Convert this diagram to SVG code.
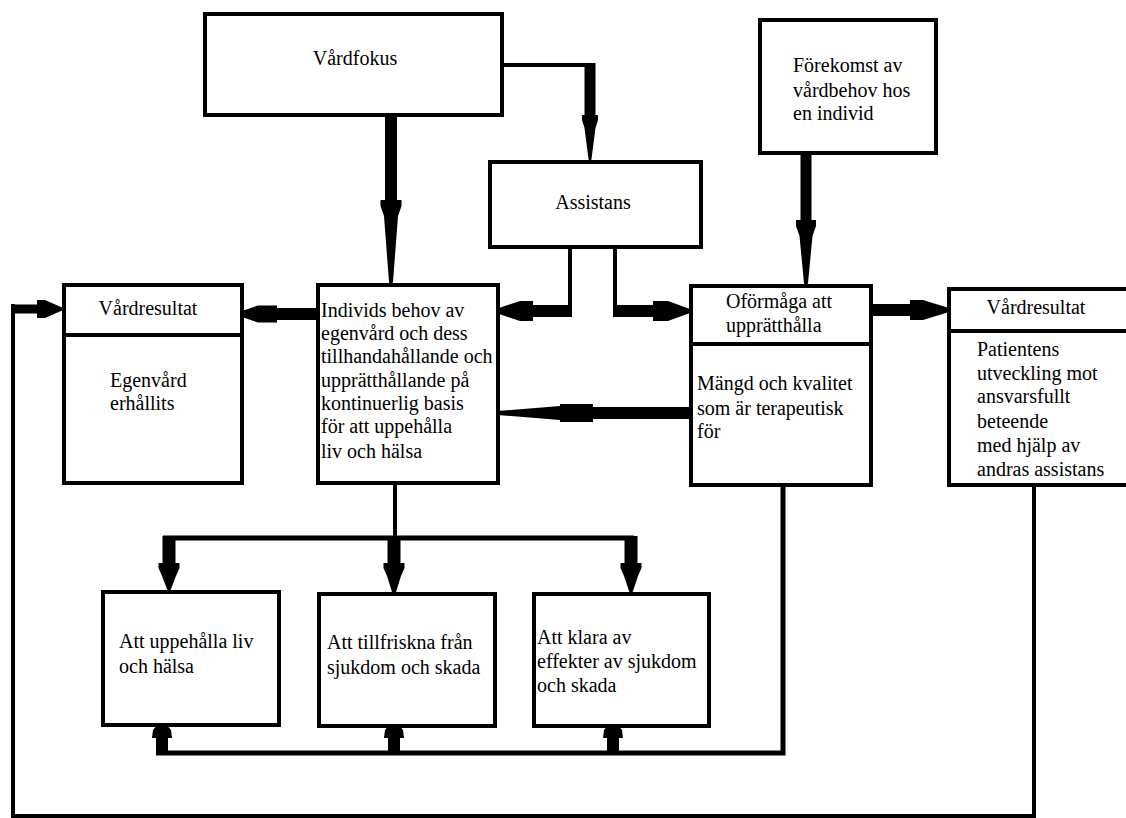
<svg xmlns="http://www.w3.org/2000/svg" width="1126" height="818" viewBox="0 0 1126 818">
<style>
.box{fill:#fff;stroke:#000;stroke-width:4}
.div{stroke:#000;stroke-width:4;fill:none}
.t{font-family:"Liberation Serif","Times New Roman",serif;font-size:20px;fill:#000}
.c{text-anchor:middle}
.ln{fill:none;stroke:#000;stroke-width:4;stroke-linejoin:miter}
.ln5{fill:none;stroke:#000;stroke-width:5}
.ar{fill:#000;stroke:none}
</style>
<rect width="1126" height="818" fill="#fff"/>
<g id="connectors">
<path class="ln" d="M504 65 H590"/>
<path class="ln" d="M570 249 V317"/>
<path class="ln" d="M615 249 V317"/>
<path class="ln" d="M395 485 V540"/>
<path class="ln5" d="M163 538 H634"/>
<path class="ln5" d="M783 487 V753 H156"/>
<path class="ln" d="M1034 487 V816 H13 V304"/>
<polygon class="ar" points="385,114 385,200 380.5,200 380.5,206 384,216 389,282 391,286 393,282 398,216 401.5,206 401.5,200 397,200 397,114"/>
<polygon class="ar" points="584.5,63 584.5,115 582,115 582,120 584.5,128 588.5,159 590,163 591.5,159 595.5,128 598,120 598,115 595.5,115 595.5,63"/>
<polygon class="ar" points="800.5,153 800.5,220 796,220 796,226 799.5,236 804,283 806,287 808,283 812.5,236 816,226 816,220 811.5,220 811.5,153"/>
<polygon class="ar" points="162.5,536 162.5,563 158.5,563 158.5,568 162,576 167,589 169,593 171,589 176,576 179.5,568 179.5,563 175.5,563 175.5,536"/>
<polygon class="ar" points="387.5,536 387.5,563 383.5,563 383.5,568 387,576 392,592 394,596 396,592 401,576 404.5,568 404.5,563 400.5,563 400.5,536"/>
<polygon class="ar" points="624.5,536 624.5,563 620.5,563 620.5,568 624,576 629,591 631,595 633,591 638,576 641.5,568 641.5,563 637.5,563 637.5,536"/>
<polygon class="ar" points="156,755 156,738 152,738 153,730 159,723 162,720 165,723 171,730 172,738 168,738 168,755"/>
<polygon class="ar" points="388,755 388,738 384,738 385,730 391,723 394,720 397,723 403,730 404,738 400,738 400,755"/>
<polygon class="ar" points="607,755 607,738 603,738 604,730 610,723 613,720 616,723 622,730 623,738 619,738 619,755"/>
<polygon class="ar" points="318,308 277,308 277,305.5 258,305.5 239,312 236,314 239,316 258,322.5 277,322.5 277,320 318,320"/>
<polygon class="ar" points="572,305 533,305 533,301 520,301 496,309 492,311 496,313 520,321 533,321 533,317 572,317"/>
<polygon class="ar" points="691,407 593,407 593,404 560,404 560,406 497,411 493,413 497,415 560,420 560,422 593,422 593,419 691,419"/>
<polygon class="ar" points="613,305 653,305 653,301 668,301 690,309 694,311 690,313 668,321 653,321 653,317 613,317"/>
<polygon class="ar" points="871,304 910,304 910,300 923,300 949,308 953,310 949,312 923,320 910,320 910,316 871,316"/>
<polygon class="ar" points="11,304.5 37,304.5 37,300 45,300 62,307.5 65,309 62,310.5 45,318 37,318 37,313.5 11,313.5"/>
</g>
<g id="vardfokus">
<rect class="box" x="205" y="14" width="297" height="101"/>
<text class="t c" x="355" y="65">Vårdfokus</text>
</g>
<g id="assistans">
<rect class="box" x="490" y="162" width="211" height="85"/>
<text class="t c" x="593" y="209">Assistans</text>
</g>
<g id="forekomst">
<rect class="box" x="760" y="20" width="176" height="133"/>
<text class="t" x="793" y="72">Förekomst av</text>
<text class="t" x="793" y="97">vårdbehov hos</text>
<text class="t" x="793" y="120">en individ</text>
</g>
<g id="vardresultat-vanster">
<rect class="box" x="64" y="285" width="178" height="198"/>
<path class="div" d="M64 335 H242"/>
<text class="t c" x="148" y="315">Vårdresultat</text>
<text class="t" x="110" y="387">Egenvård</text>
<text class="t" x="110" y="410">erhållits</text>
</g>
<g id="individ">
<rect class="box" x="318" y="285" width="180" height="198"/>
<text class="t" x="321" y="317">Individs behov av</text>
<text class="t" x="321" y="340">egenvård och dess</text>
<text class="t" x="321" y="363">tillhandahållande och</text>
<text class="t" x="321" y="387">upprätthållande på</text>
<text class="t" x="321" y="410">kontinuerlig basis</text>
<text class="t" x="321" y="433">för att uppehålla</text>
<text class="t" x="321" y="458">liv och hälsa</text>
</g>
<g id="oformaga">
<rect class="box" x="691" y="286" width="180" height="199"/>
<path class="div" d="M691 344 H871"/>
<text class="t" x="726" y="308">Oförmåga att</text>
<text class="t" x="726" y="332">upprätthålla</text>
<text class="t" x="697" y="390">Mängd och kvalitet</text>
<text class="t" x="697" y="415">som är terapeutisk</text>
<text class="t" x="697" y="438">för</text>
</g>
<g id="vardresultat-hoger">
<rect class="box" x="949" y="289" width="200" height="196"/>
<path class="div" d="M949 331 H1149"/>
<text class="t c" x="1036" y="314">Vårdresultat</text>
<text class="t" x="977" y="356">Patientens</text>
<text class="t" x="977" y="380">utveckling mot</text>
<text class="t" x="977" y="403">ansvarsfullt</text>
<text class="t" x="977" y="428">beteende</text>
<text class="t" x="977" y="452">med hjälp av</text>
<text class="t" x="977" y="476">andras assistans</text>
</g>
<g id="uppehalla">
<rect class="box" x="103" y="592" width="176" height="133"/>
<text class="t" x="119" y="648">Att uppehålla liv</text>
<text class="t" x="119" y="673">och hälsa</text>
</g>
<g id="tillfriskna">
<rect class="box" x="319" y="594" width="176" height="132"/>
<text class="t" x="327" y="649">Att tillfriskna från</text>
<text class="t" x="327" y="674">sjukdom och skada</text>
</g>
<g id="klara">
<rect class="box" x="534" y="594" width="175" height="132"/>
<text class="t" x="537" y="644">Att klara av</text>
<text class="t" x="537" y="668">effekter av sjukdom</text>
<text class="t" x="537" y="692">och skada</text>
</g>
</svg>
